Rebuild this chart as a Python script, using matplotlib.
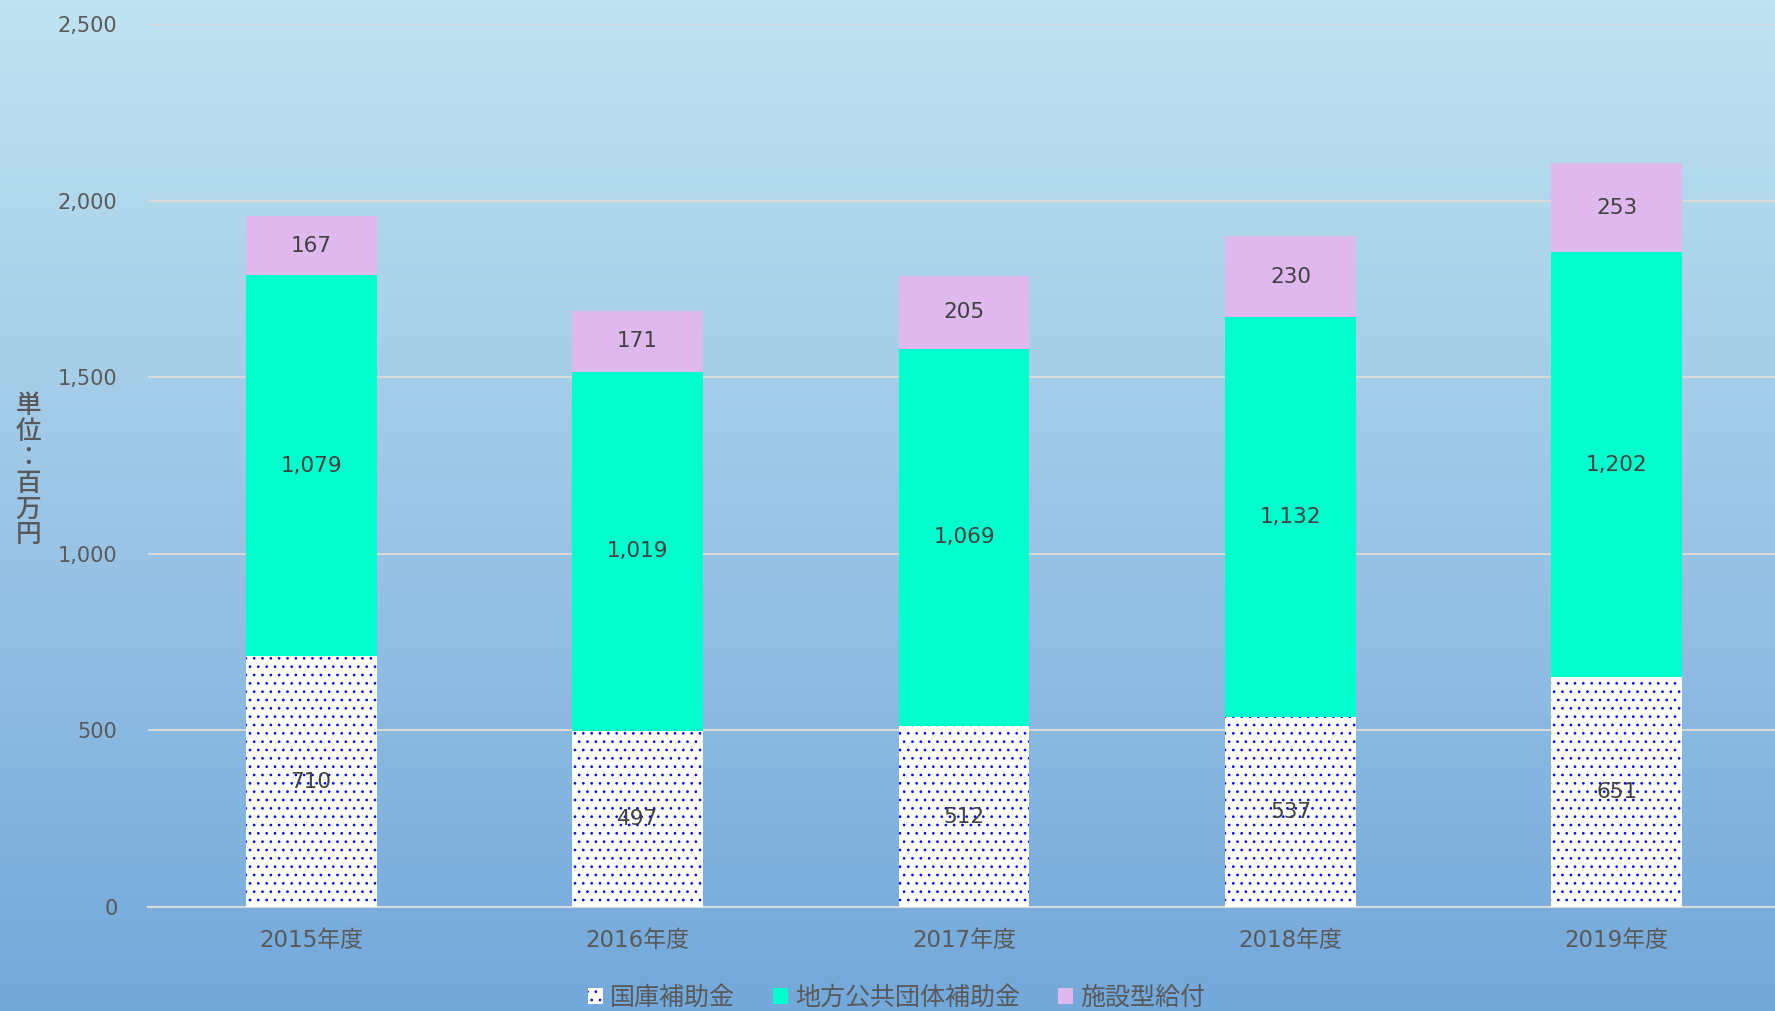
import numpy as np
import matplotlib
matplotlib.use("Agg")
import matplotlib.pyplot as plt
from matplotlib.colors import LinearSegmentedColormap

plt.rcParams['font.family'] = ['DejaVu Sans', 'Noto Sans CJK JP']
plt.rcParams['hatch.linewidth'] = 0.7

# data (単位：百万円)
years = ["2015年度", "2016年度", "2017年度", "2018年度", "2019年度"]
national = [710, 497, 512, 537, 651]
local = [1079, 1019, 1069, 1132, 1202]
facility = [167, 171, 205, 230, 253]
series_names = ["国庫補助金", "地方公共団体補助金", "施設型給付"]
yticks = [0, 500, 1000, 1500, 2000, 2500]

text_color = "#595959"
label_color = "#404040"
grid_color = "#d9d9d9"

fig = plt.figure(figsize=(17.75, 10.11), dpi=100)

# gradient background over the whole figure
bg = fig.add_axes([0, 0, 1, 1], zorder=-10)
cmap = LinearSegmentedColormap.from_list("bg", ["#bfe3f1", "#9cc6e6", "#73a8da"])
grad = np.linspace(0, 1, 256).reshape(-1, 1)
bg.imshow(grad, aspect="auto", cmap=cmap, extent=[0, 1, 0, 1])
bg.set_axis_off()

ax = fig.add_axes([0.0834, 0.1029, 0.9194, 0.8734])
ax.patch.set_alpha(0)

x = np.arange(len(years))
w = 0.40
b1 = ax.bar(x, national, w, color="white", edgecolor="blue", linewidth=0,
            hatch="..", zorder=3)
b2 = ax.bar(x, local, w, bottom=national, color="#00ffcc", linewidth=0,
            zorder=3)
bottom3 = np.array(national) + np.array(local)
b3 = ax.bar(x, facility, w, bottom=bottom3, color="#dfb9ee", linewidth=0,
            zorder=3)

# data labels
for bars, vals, bots in [(b1, national, np.zeros(5)),
                         (b2, local, np.array(national)),
                         (b3, facility, bottom3)]:
    for xi, v, b in zip(x, vals, bots):
        ax.text(xi, b + v / 2, f"{v:,}", ha="center", va="center",
                fontsize=15.5, color=label_color, zorder=5)

ax.set_xlim(-0.5, len(years) - 0.5)
ax.set_ylim(0, 2500)
ax.set_yticks(yticks)
ax.set_yticklabels([f"{t:,}" for t in yticks])
ax.set_xticks(x)
ax.set_xticklabels(years)
ax.tick_params(axis="both", length=0, labelsize=15, colors=text_color)
ax.tick_params(axis="x", labelsize=16.5, pad=16)
ax.tick_params(axis="y", pad=22)
ax.grid(axis="y", color=grid_color, linewidth=1.5, zorder=0)
for s in ["top", "right", "left"]:
    ax.spines[s].set_visible(False)
ax.spines["bottom"].set_color(grid_color)
ax.spines["bottom"].set_linewidth(1.5)

# vertical unit label
fig.text(0.016, 0.535, "\n".join("単位：百万円"), ha="center", va="center",
         fontsize=18.5, color=text_color, linespacing=0.95,
         family=['Noto Sans CJK JP'], fontweight="medium")

fig.legend([b1, b2, b3], series_names, loc="center", ncol=3,
           bbox_to_anchor=(0.505, 0.013), frameon=False,
           prop={'family': ['Noto Sans CJK JP'], 'size': 18},
           labelcolor=text_color, handlelength=0.6, handleheight=0.6,
           handletextpad=0.3, columnspacing=1.5)

fig.savefig("out.png", dpi=100)
